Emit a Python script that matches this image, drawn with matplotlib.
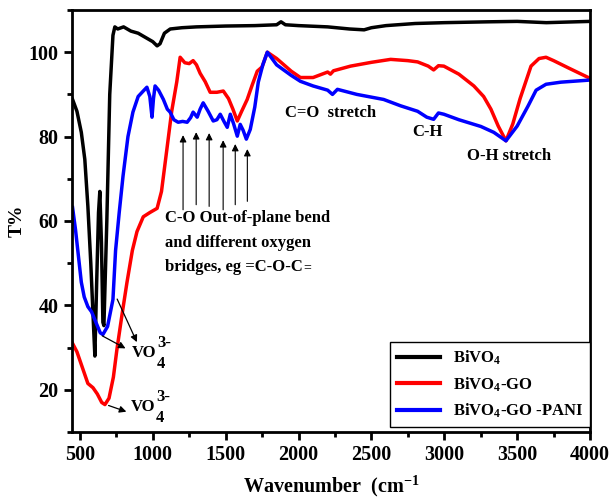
import numpy as np
import matplotlib
matplotlib.use("Agg")
import matplotlib.pyplot as plt
from matplotlib.ticker import MultipleLocator

plt.rcParams['font.family'] = 'Liberation Serif'
plt.rcParams['font.weight'] = 'bold'
plt.rcParams['mathtext.fontset'] = 'custom'
plt.rcParams['mathtext.rm'] = 'Liberation Serif:bold'
plt.rcParams['mathtext.it'] = 'Liberation Serif:italic:bold'
plt.rcParams['mathtext.bf'] = 'Liberation Serif:bold'

# BiVO4
bivo4_x = [450, 480, 510, 534, 555, 575, 590, 603, 615, 628, 637, 648, 658, 665, 685, 705,
           727, 740, 760, 800, 850, 900, 950, 1000, 1030, 1050, 1080, 1120, 1200, 1300, 1500,
           1700, 1850, 1880, 1910, 2000, 2200, 2350, 2450, 2500, 2600, 2800, 3000, 3300, 3500,
           3700, 4000]
bivo4_y = [88.8, 86, 81, 74.6, 63.5, 50, 38, 28, 45, 62, 67, 55, 36, 35.2, 60, 90,
           104, 106, 105.5, 106, 105, 104.5, 103.5, 102.5, 101.5, 102, 104.5, 105.5, 105.8, 106, 106.2,
           106.3, 106.5, 107.2, 106.5, 106.3, 106, 105.5, 105.3, 105.8, 106.3, 106.8, 107, 107.2, 107.3,
           107, 107.3]

# BiVO4-GO
go_x = [450, 480, 520, 555, 590, 620, 650, 672, 700, 730, 754, 790, 823, 860, 892, 935,
        980, 1030, 1060, 1097, 1130, 1165, 1188, 1220, 1250, 1277, 1300, 1325, 1360, 1394,
        1440, 1484, 1520, 1550, 1580, 1610, 1648, 1680, 1717, 1750, 1786, 1850, 1950, 2013,
        2100, 2200, 2219, 2240, 2357, 2500, 2632, 2750, 2817, 2890, 2927, 2960, 2997, 3100,
        3203, 3270, 3320, 3370, 3423, 3470, 3520, 3595, 3650, 3698, 3750, 3850, 4000]
go_y = [31, 29, 25, 21.5, 20.5, 19, 17, 16.5, 18, 23, 29.5, 38, 45.4, 53, 57.5, 61,
        62, 63, 67, 77, 86, 93, 98.8, 97.5, 97.3, 98, 97, 95, 93, 90.5,
        90.5, 90.8, 89, 86.5, 83.7, 86, 88.8, 92, 95.5, 96.5, 100, 98.5, 95.5, 94,
        94, 95.3, 94.8, 95.6, 96.7, 97.6, 98.3, 98, 97.7, 96.7, 95.8, 96.8, 96.7, 94.8,
        92, 89.5, 86.5, 82.5, 79, 83, 89, 96.7, 98.5, 98.8, 98, 96.3, 93.8]

# BiVO4-GO-PANI
pani_x = [450, 470, 486, 510, 530, 555, 580, 610, 640, 658, 690, 727, 745, 770, 796, 830,
          864, 900, 935, 960, 980, 995, 1005, 1016, 1040, 1073, 1100, 1119, 1145, 1174, 1205,
          1236, 1260, 1277, 1305, 1325, 1346, 1380, 1415, 1440, 1463, 1490, 1511, 1532, 1555,
          1580, 1600, 1620, 1642, 1669, 1700, 1724, 1755, 1786, 1850, 1950, 2013, 2100, 2200,
          2233, 2267, 2400, 2584, 2700, 2817, 2880, 2927, 2960, 2997, 3100, 3251, 3340, 3423,
          3500, 3574, 3630, 3698, 3800, 4000]
pani_y = [63.2, 58, 53, 45.5, 42, 39.7, 38.5, 36, 33.5, 33.1, 35, 41.4, 53, 62, 70.6, 80,
          85.8, 89.5, 90.8, 91.7, 89.5, 84.6, 89, 92, 91, 88.8, 86.5, 85.8, 84, 83.4, 83.6,
          83.4, 84.5, 85.8, 84.6, 86.5, 88, 86, 83.7, 84, 85.3, 83.5, 82.2, 85.3, 83,
          80.1, 82.9, 81.5, 79.4, 81.7, 87, 92.9, 97, 100, 97, 94.5, 93.1, 92, 91,
          90, 91.2, 90, 88.8, 87.3, 86, 84.6, 84.1, 85.6, 85.3, 84, 82.4, 81, 79,
          82.5, 87.2, 91, 92.4, 92.9, 93.4]

# C-O arrows: x, head y, tail y
co_arrow_x = [1208, 1298, 1387, 1483, 1566, 1649]
co_arrow_head = [81, 81.7, 81.5, 79.8, 78.9, 77.7]
co_arrow_tail = [62, 63.2, 62.8, 62, 63.2, 64]

fig = plt.figure(figsize=(6.14, 5.0), dpi=100)
ax = fig.add_axes([0.117, 0.136, 0.844, 0.844])

ax.plot(bivo4_x, bivo4_y, color='black', lw=2.5, label='BiVO$_4$')
ax.plot(go_x, go_y, color='red', lw=2.5, label='BiVO$_4$-GO')
ax.plot(pani_x, pani_y, color='blue', lw=2.5, label='BiVO$_4$-GO -PANI')

ax.set_xlim(445, 4000)
ax.set_ylim(10, 110)
ax.xaxis.set_major_locator(MultipleLocator(500))
ax.xaxis.set_minor_locator(MultipleLocator(250))
ax.yaxis.set_major_locator(MultipleLocator(20))
ax.yaxis.set_minor_locator(MultipleLocator(10))
ax.tick_params(which='major', direction='out', length=6, width=2, labelsize=14.5)
ax.tick_params(which='minor', direction='out', length=3.5, width=2)
for s in ax.spines.values():
    s.set_linewidth(2)

ax.set_xlabel('Wavenumber  (cm$^{-1}$', fontsize=14.5, fontweight='bold', labelpad=6)
ax.set_ylabel('T%', fontsize=14, fontweight='bold', labelpad=2)

# annotations
ax.text(2219, 85.6, 'C=O  stretch', fontsize=12, ha='center', va='center')
ax.text(2886, 81.0, 'C-H', fontsize=12, ha='center', va='center')
ax.text(3444, 75.5, 'O-H stretch', fontsize=12, ha='center', va='center')
ax.text(1085, 60.8, 'C-O Out-of-plane bend', fontsize=12, ha='left', va='center')
ax.text(1085, 54.9, 'and different oxygen', fontsize=12, ha='left', va='center')
ax.text(1085, 49.2, 'bridges, eg =C-O-C', fontsize=12, ha='left', va='center')
ax.text(2035, 49.0, '=', fontsize=10, fontweight='normal', ha='left', va='center')

for x, yh, yt in zip(co_arrow_x, co_arrow_head, co_arrow_tail):
    ax.annotate('', xy=(x, yh), xytext=(x, yt),
                arrowprops=dict(arrowstyle='-|>', color='black', lw=0.8, mutation_scale=10))

arrow_kw = dict(arrowstyle='-|>', color='black', lw=0.9, mutation_scale=10)
ax.annotate('', xy=(830, 29.5), xytext=(637, 33.1), arrowprops=arrow_kw)
ax.annotate('', xy=(899, 30.7), xytext=(748, 42.1), arrowprops=arrow_kw)
ax.annotate('', xy=(837, 14.6), xytext=(679, 16.5), arrowprops=arrow_kw)


def vo_label(x, y):
    ax.text(x, y, 'VO', fontsize=12, ha='left', va='center')
    ax.annotate('3-', xy=(x, y), xytext=(18, 7), textcoords='offset points',
                fontsize=12, ha='left', va='center')
    ax.annotate('4', xy=(x, y), xytext=(18, -8), textcoords='offset points',
                fontsize=12, ha='left', va='center')


vo_label(858, 28.8)
vo_label(851, 16.0)

leg = ax.legend(loc='lower right', bbox_to_anchor=(1.0, 0.012), borderaxespad=0,
                fancybox=False, edgecolor='black', fontsize=12, handlelength=2.6,
                labelspacing=0.5, borderpad=0.4, framealpha=1)
leg.get_frame().set_linewidth(1)
for line in leg.get_lines():
    line.set_linewidth(3)

fig.savefig('out.png', dpi=100)
